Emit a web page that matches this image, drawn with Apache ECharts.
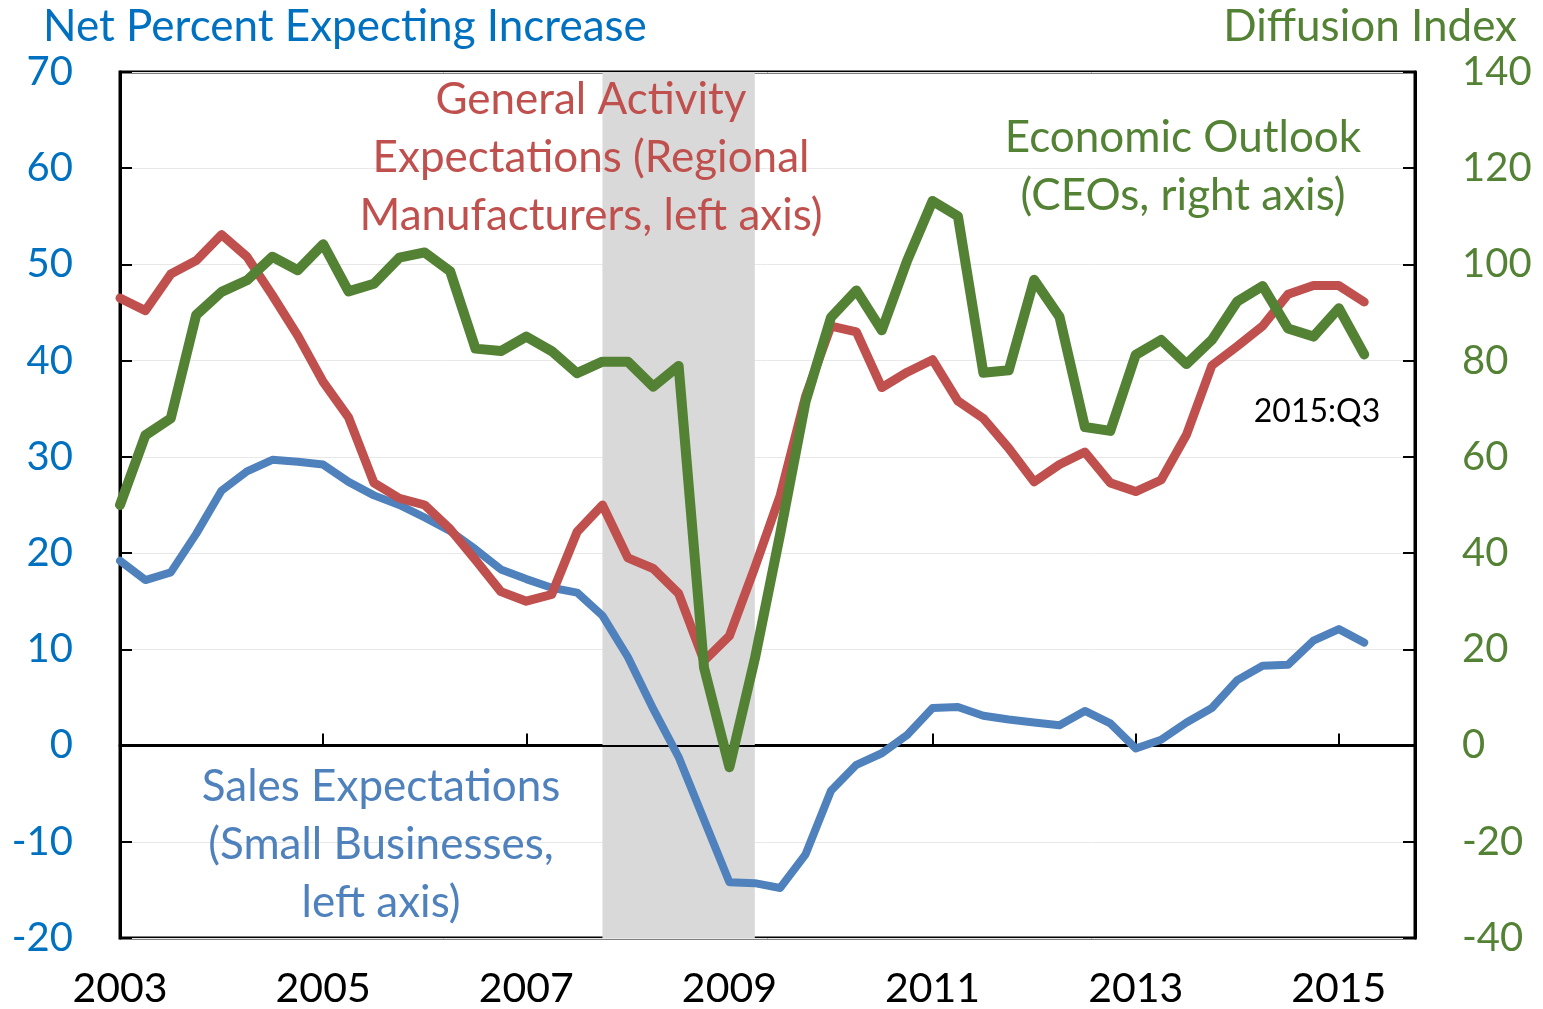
<!DOCTYPE html>
<html>
<head>
<meta charset="utf-8">
<script src="https://cdn.jsdelivr.net/npm/echarts@6/dist/echarts.min.js"></script>
<style>
  html, body { margin: 0; padding: 0; background: #fff; }
  #chart { width: 1543px; height: 1009px; }
</style>
</head>
<body>
<div id="chart"></div>
<script>
// quarters 2003:Q1 .. 2015:Q4
const years = [2003, 2004, 2005, 2006, 2007, 2008, 2009, 2010, 2011, 2012, 2013, 2014, 2015]
const quarters = ['Q1', 'Q2', 'Q3', 'Q4']
const categories = []
years.forEach(y => quarters.forEach(q => categories.push(y + ':' + q)))

// Sales Expectations (small businesses), left axis
const salesExpectations = [
  19.2, 17.2, 18.0, 22.0, 26.5, 28.5, 29.7, 29.5, 29.2, 27.4,
  26.0, 25.0, 23.7, 22.3, 20.4, 18.3, 17.3, 16.4, 15.9, 13.5,
  9.2, 3.8, -1.2, -7.7, -14.2, -14.3, -14.8, -11.3, -4.7, -2.0,
  -0.8, 1.1, 3.9, 4.0, 3.1, 2.7, 2.4, 2.1, 3.6, 2.3,
  -0.3, 0.6, 2.4, 3.9, 6.8, 8.3, 8.4, 10.9, 12.1, 10.7
]

// General Activity Expectations (regional manufacturers), left axis
const generalActivity = [
  46.5, 45.2, 49.0, 50.4, 53.1, 50.8, 46.8, 42.6, 37.8, 34.1,
  27.3, 25.7, 25.0, 22.5, 19.3, 16.0, 15.0, 15.7, 22.2, 25.0,
  19.5, 18.4, 15.8, 8.8, 11.4, 18.5, 26.0, 36.3, 43.6, 43.0,
  37.2, 38.8, 40.1, 35.8, 34.0, 30.9, 27.4, 29.2, 30.5, 27.3,
  26.4, 27.6, 32.3, 39.5, 41.5, 43.6, 46.9, 47.8, 47.8, 46.1
]

// Economic Outlook (CEOs), right axis
const economicOutlook = [
  50.0, 64.5, 68.0, 89.5, 94.3, 96.7, 101.6, 98.8, 104.2, 94.4,
  96.0, 101.4, 102.5, 98.6, 82.5, 82.0, 85.0, 82.0, 77.4, 79.8,
  79.8, 74.6, 78.9, 16.2, -4.5, 18.0, 44.0, 71.5, 89.0, 94.6,
  86.3, 100.8, 113.2, 110.0, 77.5, 78.0, 96.8, 89.1, 66.2, 65.4,
  81.2, 84.3, 79.3, 84.3, 92.3, 95.5, 86.7, 85.0, 90.9, 81.3
]

const recession = ['2007:Q4', '2009:Q2']

const FONT = 'Lato'
const BLUE = '#4F81BD'
const RED = '#C0504D'
const GREEN = '#548235'

const chart = echarts.init(document.getElementById('chart'))

const tickStyle = { show: true, inside: true, length: 12, lineStyle: { color: '#000', width: 2 } }
const axisLineStyle = { show: true, lineStyle: { color: '#000', width: 3 } }

function note (x, y, text, color, size) {
  return {
    type: 'text', x: x, y: y, z: 100,
    style: {
      text: text, fill: color, font: size + 'px ' + FONT,
      align: 'center', verticalAlign: 'middle', lineHeight: 58
    }
  }
}

chart.setOption({
  animation: false,
  grid: {
    left: 120, right: 128, top: 72, bottom: 66,
    show: true, borderColor: '#000', borderWidth: 3
  },
  xAxis: {
    type: 'category',
    data: categories,
    boundaryGap: false,
    axisLine: axisLineStyle,
    axisTick: Object.assign({ interval: 7 }, tickStyle),
    axisLabel: {
      interval: 7,
      formatter: v => v.slice(0, 4),
      color: '#000', fontFamily: FONT, fontSize: 41, margin: 30
    },
    splitLine: { show: false }
  },
  yAxis: [
    {
      type: 'value', min: -20, max: 70, interval: 10,
      axisLine: axisLineStyle,
      axisTick: tickStyle,
      axisLabel: { color: '#0070C0', fontFamily: FONT, fontSize: 40, margin: 47 },
      splitLine: { show: true, lineStyle: { color: '#e8e8e8', width: 1 } }
    },
    {
      type: 'value', min: -40, max: 140, interval: 20, position: 'right',
      axisLine: axisLineStyle,
      axisTick: tickStyle,
      axisLabel: { color: GREEN, fontFamily: FONT, fontSize: 40, margin: 47 },
      splitLine: { show: false }
    }
  ],
  series: [
    {
      name: 'Sales Expectations',
      type: 'line',
      z: 3,
      yAxisIndex: 0,
      data: salesExpectations,
      showSymbol: false,
      lineStyle: { color: BLUE, width: 8, join: 'round', cap: 'round' },
      markArea: {
        silent: true,
        z: 1,
        itemStyle: { color: '#d9d9d9' },
        data: [[{ xAxis: recession[0] }, { xAxis: recession[1] }]]
      },
      markLine: {
        silent: true,
        z: 2,
        symbol: 'none',
        label: { show: false },
        lineStyle: { color: '#000', width: 2, type: 'solid' },
        data: [{ yAxis: 0 }]
      }
    },
    {
      name: 'General Activity Expectations',
      type: 'line',
      z: 3,
      yAxisIndex: 0,
      data: generalActivity,
      showSymbol: false,
      lineStyle: { color: RED, width: 9, join: 'round', cap: 'round' }
    },
    {
      name: 'Economic Outlook',
      type: 'line',
      z: 3,
      yAxisIndex: 1,
      data: economicOutlook,
      showSymbol: false,
      lineStyle: { color: GREEN, width: 10, join: 'round', cap: 'round' }
    }
  ],
  graphic: [
    {
      type: 'text', x: 43, y: 27, z: 100,
      style: { text: 'Net Percent Expecting Increase', fill: '#0070C0', font: '44px ' + FONT, verticalAlign: 'middle' }
    },
    {
      type: 'text', x: 1517, y: 27, z: 100,
      style: { text: 'Diffusion Index', fill: GREEN, font: '44px ' + FONT, align: 'right', verticalAlign: 'middle' }
    },
    note(591, 158, 'General Activity\nExpectations (Regional\nManufacturers, left axis)', RED, 44),
    note(1183, 167, 'Economic Outlook\n(CEOs, right axis)', GREEN, 44),
    note(381, 845, 'Sales Expectations\n(Small Businesses,\nleft axis)', BLUE, 44),
    note(1317, 412, '2015:Q3', '#000', 32)
  ]
})
</script>
</body>
</html>
